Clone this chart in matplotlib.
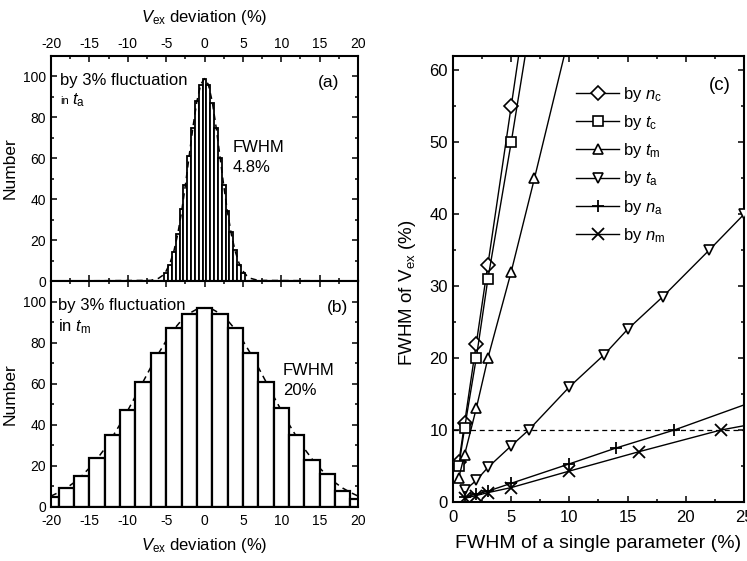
import matplotlib
matplotlib.use('Agg')
import matplotlib.pyplot as plt
from matplotlib.ticker import MultipleLocator

plt.rcParams['font.family'] = ['Liberation Sans', 'DejaVu Sans']
plt.rcParams['mathtext.fontset'] = 'custom'
plt.rcParams['mathtext.rm'] = 'Liberation Sans'
plt.rcParams['mathtext.it'] = 'Liberation Sans:italic'
plt.rcParams['mathtext.bf'] = 'Liberation Sans:bold'
plt.rcParams['axes.unicode_minus'] = False

# ---------------- data ----------------
# panel (a): histogram by 3% fluctuation in t_a
hist_a_centers = [-5, -4.5, -4, -3.5, -3, -2.5, -2, -1.5, -1, -0.5, 0,
                  0.5, 1, 1.5, 2, 2.5, 3, 3.5, 4, 4.5, 5]
hist_a_counts = [4, 8, 14, 23, 35, 47, 61, 75, 88, 96, 99,
                 96, 87, 75, 60, 47, 34, 24, 15, 8, 4]
fit_a_x = [-20, -7, -6, -5.5, -5, -4.5, -4, -3.5, -3, -2.5, -2, -1.5, -1, -0.5, 0,
           0.5, 1, 1.5, 2, 2.5, 3, 3.5, 4, 4.5, 5, 5.5, 6, 7, 20]
fit_a_y = [0, 0.3, 1.3, 2.6, 4.9, 8.7, 14.5, 22.7, 33.6, 46.7, 61.2, 75.5, 87.8, 96.1, 99,
           96.1, 87.8, 75.5, 61.2, 46.7, 33.6, 22.7, 14.5, 8.7, 4.9, 2.6, 1.3, 0.3, 0]

# panel (b): histogram by 3% fluctuation in t_m
hist_b_centers = [-20, -18, -16, -14, -12, -10, -8, -6, -4, -2, 0,
                  2, 4, 6, 8, 10, 12, 14, 16, 18, 20]
hist_b_counts = [5, 9, 15, 24, 35, 47, 61, 75, 87, 94, 97,
                 94, 87, 75, 61, 48, 35, 23, 16, 8, 4]
fit_b_x = [-20, -19, -18, -17, -16, -15, -14, -13, -12, -11, -10, -9, -8, -7, -6, -5,
           -4, -3, -2, -1, 0, 1, 2, 3, 4, 5, 6, 7, 8, 9, 10, 11, 12, 13, 14, 15, 16,
           17, 18, 19, 20]
fit_b_y = [5.3, 7.1, 9.2, 11.9, 15.1, 19.0, 23.4, 28.4, 34.1, 40.3, 47.0, 53.9, 61.0,
           68.0, 74.7, 80.9, 86.4, 90.9, 94.2, 96.3, 97, 96.3, 94.2, 90.9, 86.4, 80.9,
           74.7, 68.0, 61.0, 53.9, 47.0, 40.3, 34.1, 28.4, 23.4, 19.0, 15.1, 11.9, 9.2,
           7.1, 5.3]

# panel (c): FWHM of V_ex vs FWHM of single parameter
nc_x = [0.5, 1, 2, 3, 5, 10]
nc_y = [5.5, 11, 22, 33, 55, 110]
tc_x = [0.5, 1, 2, 3, 5, 10]
tc_y = [5, 10.3, 20, 31, 50, 100]
tm_x = [0.5, 1, 2, 3, 5, 7, 10]
tm_y = [3.4, 6.6, 13, 20, 32, 45, 65]
ta_x = [1, 2, 3, 5, 6.5, 10, 13, 15, 18, 22, 25]
ta_y = [1.6, 3, 4.8, 7.8, 10, 16, 20.5, 24, 28.5, 35, 40]
na_x = [1, 2, 3, 5, 10, 14, 19, 30]
na_y = [0.7, 1.1, 1.5, 2.6, 5.3, 7.5, 10, 16.4]
nm_x = [1, 2, 3, 5, 10, 16, 23, 30]
nm_y = [0.5, 0.9, 1.3, 2.0, 4.3, 7, 10, 12.1]
ref_level = [10, 10]
ref_x = [0, 25]

series_c = [
    (nc_x, nc_y, 'D', r'by $n_{\rm c}$'),
    (tc_x, tc_y, 's', r'by $t_{\rm c}$'),
    (tm_x, tm_y, '^', r'by $t_{\rm m}$'),
    (ta_x, ta_y, 'v', r'by $t_{\rm a}$'),
    (na_x, na_y, '+', r'by $n_{\rm a}$'),
    (nm_x, nm_y, 'x', r'by $n_{\rm m}$'),
]

# ---------------- figure ----------------
fig = plt.figure(figsize=(7.47, 5.61), dpi=100)

ax_a = fig.add_axes([0.0683, 0.4991, 0.411, 0.401])
ax_b = fig.add_axes([0.0683, 0.0963, 0.411, 0.4028])
ax_c = fig.add_axes([0.6064, 0.1052, 0.3896, 0.795])

SPINE_W = 1.5
TICK_FS = 10


def style_axes(ax, xmaj, xmin, ymaj, ymin, fs):
    for sp in ax.spines.values():
        sp.set_linewidth(SPINE_W)
    ax.xaxis.set_major_locator(MultipleLocator(xmaj))
    ax.xaxis.set_minor_locator(MultipleLocator(xmin))
    ax.yaxis.set_major_locator(MultipleLocator(ymaj))
    ax.yaxis.set_minor_locator(MultipleLocator(ymin))
    ax.tick_params(which='both', direction='in', top=True, right=True,
                   width=1.1, labelsize=fs)
    ax.tick_params(which='major', length=4)
    ax.tick_params(which='minor', length=2.5)


# panel (a)
ax_a.bar(hist_a_centers, hist_a_counts, width=0.5, facecolor='white',
         edgecolor='black', linewidth=1.3, zorder=2)
ax_a.plot(fit_a_x, fit_a_y, color='black', linestyle=(0, (4, 3)), linewidth=1.1, zorder=3)
ax_a.set_xlim(-20, 20)
ax_a.set_ylim(0, 110)
style_axes(ax_a, 5, 2.5, 20, 10, TICK_FS)
ax_a.tick_params(labelbottom=False, labeltop=True)
ax_a.xaxis.set_label_position('top')
ax_a.set_xlabel(r'$V_{\rm ex}$ deviation (%)', fontsize=12, labelpad=11)
ax_a.set_ylabel('Number', fontsize=12.5, labelpad=4)
ax_a.text(-18.8, 95.8, 'by 3% fluctuation', fontsize=12, va='baseline', ha='left')
ax_a.text(-18.8, 86.5, 'in', fontsize=8, va='baseline', ha='left')
ax_a.text(-17.3, 86.5, r'$t_{\rm a}$', fontsize=12, va='baseline', ha='left')
ax_a.text(17.6, 95.0, '(a)', fontsize=12.5, va='baseline', ha='right')
ax_a.text(3.6, 63.2, 'FWHM', fontsize=12, va='baseline', ha='left')
ax_a.text(3.6, 53.4, '4.8%', fontsize=12, va='baseline', ha='left')

# panel (b)
ax_b.bar(hist_b_centers, hist_b_counts, width=2, facecolor='white',
         edgecolor='black', linewidth=1.6, zorder=2)
ax_b.plot(fit_b_x, fit_b_y, color='black', linestyle=(0, (4, 3)), linewidth=1.1, zorder=1.5)
ax_b.set_xlim(-20, 20)
ax_b.set_ylim(0, 110)
style_axes(ax_b, 5, 2.5, 20, 10, TICK_FS)
ax_b.tick_params(axis='x', pad=5)
ax_b.set_xlabel(r'$V_{\rm ex}$ deviation (%)', fontsize=12, labelpad=6)
ax_b.set_ylabel('Number', fontsize=12.5, labelpad=4)
ax_b.text(-19.1, 95.9, 'by 3% fluctuation', fontsize=12, va='baseline', ha='left')
ax_b.text(-19.1, 85.7, r'in $t_{\rm m}$', fontsize=12, va='baseline', ha='left')
ax_b.text(18.7, 95.0, '(b)', fontsize=12.5, va='baseline', ha='right')
ax_b.text(10.2, 64.3, 'FWHM', fontsize=12, va='baseline', ha='left')
ax_b.text(10.2, 54.5, '20%', fontsize=12, va='baseline', ha='left')

# panel (c)
ax_c.plot(ref_x, ref_level, color='black', linestyle=(0, (4, 3)), linewidth=0.9, zorder=1)
for xs, ys, mk, lab in series_c:
    mew = 1.3 if mk in ('+', 'x') else 1.2
    ms = 9 if mk in ('+', 'x') else 7
    ax_c.plot(xs, ys, color='black', linewidth=1.0, marker=mk, markersize=ms,
              markerfacecolor='white', markeredgecolor='black', markeredgewidth=mew,
              label=lab, zorder=3)
ax_c.set_xlim(0, 25)
ax_c.set_ylim(0, 62)
style_axes(ax_c, 5, 2.5, 10, 5, 12)
ax_c.tick_params(axis='x', pad=6)
ax_c.set_xlabel('FWHM of a single parameter (%)', fontsize=14, labelpad=7)
ax_c.set_ylabel(r'FWHM of V$_{\rm ex}$ (%)', fontsize=13.5)
ax_c.yaxis.set_label_coords(-0.12, 0.47)
ax_c.text(23.9, 57.3, '(c)', fontsize=13.5, va='baseline', ha='right')
leg = ax_c.legend(loc='upper left', bbox_to_anchor=(0.40, 0.95), frameon=False,
                  fontsize=12, handlelength=2.6, handletextpad=0.2,
                  labelspacing=0.55, borderaxespad=0.0)

fig.savefig('out.png', dpi=100)
